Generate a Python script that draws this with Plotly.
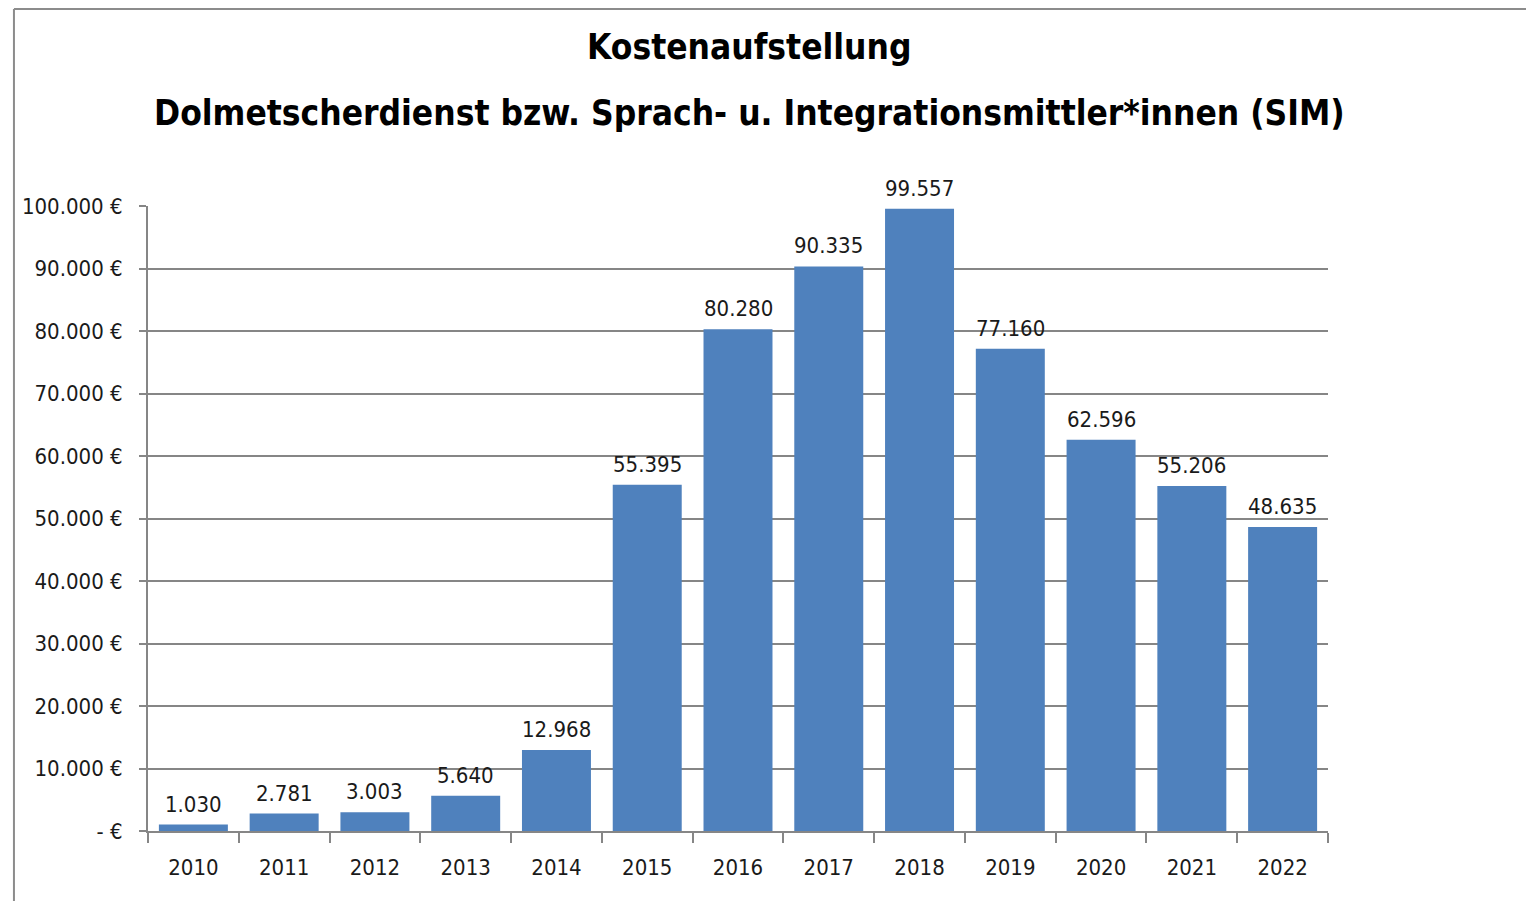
import plotly.graph_objects as go

years = ["2010", "2011", "2012", "2013", "2014", "2015", "2016", "2017", "2018", "2019", "2020", "2021", "2022"]
costs = [1030, 2781, 3003, 5640, 12968, 55395, 80280, 90335, 99557, 77160, 62596, 55206, 48635]
tick_vals = [0, 10000, 20000, 30000, 40000, 50000, 60000, 70000, 80000, 90000, 100000]
tick_text = ["- €", "10.000 €", "20.000 €", "30.000 €", "40.000 €", "50.000 €",
             "60.000 €", "70.000 €", "80.000 €", "90.000 €", "100.000 €"]
labels = [f"{v:,}".replace(",", ".") for v in costs]
title_line1 = "Kostenaufstellung"
title_line2 = "Dolmetscherdienst bzw. Sprach- u. Integrationsmittler*innen (SIM)"

FONT = "DejaVu Sans Condensed, DejaVu Sans, sans-serif"
GRID = "#868686"

fig = go.Figure(go.Bar(
    x=years, y=costs,
    marker=dict(color="#4F81BD", line=dict(width=0)),
    width=0.76, hoverinfo="x+y",
))
# value labels: x given as category index on the category axis
for i, (val, lab) in enumerate(zip(costs, labels)):
    fig.add_annotation(x=i, y=val, text=lab, showarrow=False, yanchor="bottom",
                       yshift=6, font=dict(size=22, family=FONT, color="#1a1a1a"))

fig.update_layout(
    width=1534, height=901,
    margin=dict(l=140, r=214, t=198, b=78),
    paper_bgcolor="white", plot_bgcolor="white",
    font=dict(family=FONT, size=22, color="#1a1a1a"),
    showlegend=False,
    bargap=0.24,
)
fig.add_annotation(text=f"<b>{title_line1}</b>", xref="paper", yref="paper",
                   x=0.51, y=1.2544, xanchor="center", yanchor="middle", showarrow=False,
                   font=dict(size=35, family=FONT, color="black"))
fig.add_annotation(text=f"<b>{title_line2}</b>", xref="paper", yref="paper",
                   x=0.5097, y=1.1488, xanchor="center", yanchor="middle", showarrow=False,
                   font=dict(size=35, family=FONT, color="black"))
fig.update_xaxes(
    type="category", categoryorder="array", categoryarray=years,
    showline=True, linecolor=GRID, linewidth=2,
    ticks="outside", tickson="boundaries", ticklen=10, tickwidth=2, tickcolor=GRID,
    ticklabelstandoff=16, tickangle=0,
    showgrid=False, tickfont=dict(size=22, family=FONT, color="#1a1a1a"),
)
fig.update_yaxes(
    range=[0, 100000], tickvals=tick_vals, ticktext=tick_text,
    showgrid=True, gridcolor=GRID, gridwidth=2,
    showline=True, linecolor=GRID, linewidth=2,
    ticks="outside", ticklen=7, tickwidth=2, tickcolor=GRID,
    ticklabelstandoff=12,
    zeroline=False, tickfont=dict(size=22, family=FONT, color="#1a1a1a"),
)
# outer chart border (left and top)
fig.add_shape(type="line", xref="paper", yref="paper", x0=-0.1136, x1=-0.1136, y0=-0.2, y1=1.3152,
              line=dict(color="#8c8c8c", width=2))
fig.add_shape(type="line", xref="paper", yref="paper", x0=-0.1136, x1=1.2, y0=1.3152, y1=1.3152,
              line=dict(color="#8c8c8c", width=2))

fig.write_html("out.html")
